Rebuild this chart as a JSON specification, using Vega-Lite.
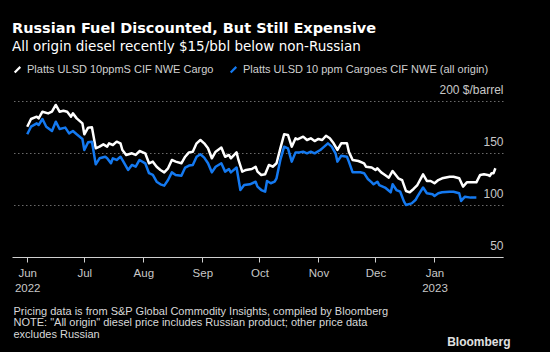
{
  "$schema": "https://vega.github.io/schema/vega-lite/v6.json",
  "width": 491,
  "height": 156,
  "autosize": {"type": "none"},
  "padding": {"left": 12, "top": 101, "right": 47, "bottom": 95},
  "background": "#000000",
  "config": {
    "view": {"stroke": null},
    "font": "Liberation Sans"
  },
  "title": {
    "text": "Russian Fuel Discounted, But Still Expensive",
    "subtitle": "All origin diesel recently $15/bbl below non-Russian",
    "anchor": "start",
    "frame": "group",
    "font": "DejaVu Sans",
    "subtitleFont": "DejaVu Sans",
    "color": "#ffffff",
    "subtitleColor": "#ffffff",
    "fontSize": 14.5,
    "fontWeight": "bold",
    "subtitleFontSize": 13.5,
    "subtitlePadding": 3,
    "offset": 10
  },
  "data": {
    "values": [
      {"date": "2022-06-01", "series": "W", "price": 175.3},
      {"date": "2022-06-03", "series": "W", "price": 182.7},
      {"date": "2022-06-06", "series": "W", "price": 184.9},
      {"date": "2022-06-07", "series": "W", "price": 183.3},
      {"date": "2022-06-09", "series": "W", "price": 189.7},
      {"date": "2022-06-12", "series": "W", "price": 188.1},
      {"date": "2022-06-14", "series": "W", "price": 189.7},
      {"date": "2022-06-16", "series": "W", "price": 196.2},
      {"date": "2022-06-18", "series": "W", "price": 189.7},
      {"date": "2022-06-20", "series": "W", "price": 190.7},
      {"date": "2022-06-22", "series": "W", "price": 189.7},
      {"date": "2022-06-24", "series": "W", "price": 184.9},
      {"date": "2022-06-25", "series": "W", "price": 188.1},
      {"date": "2022-06-27", "series": "W", "price": 183.3},
      {"date": "2022-06-30", "series": "W", "price": 178.5},
      {"date": "2022-07-01", "series": "W", "price": 168.0},
      {"date": "2022-07-03", "series": "W", "price": 174.4},
      {"date": "2022-07-05", "series": "W", "price": 174.7},
      {"date": "2022-07-07", "series": "W", "price": 154.5},
      {"date": "2022-07-09", "series": "W", "price": 156.1},
      {"date": "2022-07-11", "series": "W", "price": 158.3},
      {"date": "2022-07-13", "series": "W", "price": 156.1},
      {"date": "2022-07-14", "series": "W", "price": 159.3},
      {"date": "2022-07-16", "series": "W", "price": 157.7},
      {"date": "2022-07-18", "series": "W", "price": 160.9},
      {"date": "2022-07-20", "series": "W", "price": 159.3},
      {"date": "2022-07-21", "series": "W", "price": 152.9},
      {"date": "2022-07-23", "series": "W", "price": 148.1},
      {"date": "2022-07-26", "series": "W", "price": 149.7},
      {"date": "2022-07-28", "series": "W", "price": 148.1},
      {"date": "2022-07-30", "series": "W", "price": 151.9},
      {"date": "2022-08-02", "series": "W", "price": 149.7},
      {"date": "2022-08-04", "series": "W", "price": 140.1},
      {"date": "2022-08-06", "series": "W", "price": 141.7},
      {"date": "2022-08-08", "series": "W", "price": 136.8},
      {"date": "2022-08-10", "series": "W", "price": 133.7},
      {"date": "2022-08-12", "series": "W", "price": 131.4},
      {"date": "2022-08-14", "series": "W", "price": 135.3},
      {"date": "2022-08-16", "series": "W", "price": 143.3},
      {"date": "2022-08-18", "series": "W", "price": 141.7},
      {"date": "2022-08-21", "series": "W", "price": 140.1},
      {"date": "2022-08-23", "series": "W", "price": 146.4},
      {"date": "2022-08-25", "series": "W", "price": 150.6},
      {"date": "2022-08-27", "series": "W", "price": 151.3},
      {"date": "2022-08-29", "series": "W", "price": 159.3},
      {"date": "2022-08-31", "series": "W", "price": 162.5},
      {"date": "2022-09-02", "series": "W", "price": 159.3},
      {"date": "2022-09-04", "series": "W", "price": 154.5},
      {"date": "2022-09-06", "series": "W", "price": 144.9},
      {"date": "2022-09-08", "series": "W", "price": 151.3},
      {"date": "2022-09-11", "series": "W", "price": 155.2},
      {"date": "2022-09-13", "series": "W", "price": 146.4},
      {"date": "2022-09-15", "series": "W", "price": 148.1},
      {"date": "2022-09-16", "series": "W", "price": 144.9},
      {"date": "2022-09-19", "series": "W", "price": 150.6},
      {"date": "2022-09-20", "series": "W", "price": 143.3},
      {"date": "2022-09-22", "series": "W", "price": 132.1},
      {"date": "2022-09-24", "series": "W", "price": 133.7},
      {"date": "2022-09-27", "series": "W", "price": 134.6},
      {"date": "2022-09-29", "series": "W", "price": 136.8},
      {"date": "2022-09-30", "series": "W", "price": 132.1},
      {"date": "2022-10-02", "series": "W", "price": 128.9},
      {"date": "2022-10-04", "series": "W", "price": 129.5},
      {"date": "2022-10-06", "series": "W", "price": 138.5},
      {"date": "2022-10-08", "series": "W", "price": 136.8},
      {"date": "2022-10-10", "series": "W", "price": 140.1},
      {"date": "2022-10-12", "series": "W", "price": 154.5},
      {"date": "2022-10-14", "series": "W", "price": 168.0},
      {"date": "2022-10-16", "series": "W", "price": 167.4},
      {"date": "2022-10-18", "series": "W", "price": 156.1},
      {"date": "2022-10-20", "series": "W", "price": 164.1},
      {"date": "2022-10-21", "series": "W", "price": 163.2},
      {"date": "2022-10-24", "series": "W", "price": 165.7},
      {"date": "2022-10-26", "series": "W", "price": 162.5},
      {"date": "2022-10-28", "series": "W", "price": 164.1},
      {"date": "2022-10-30", "series": "W", "price": 161.5},
      {"date": "2022-11-01", "series": "W", "price": 163.5},
      {"date": "2022-11-03", "series": "W", "price": 162.5},
      {"date": "2022-11-05", "series": "W", "price": 166.6},
      {"date": "2022-11-07", "series": "W", "price": 164.1},
      {"date": "2022-11-09", "series": "W", "price": 159.3},
      {"date": "2022-11-11", "series": "W", "price": 152.9},
      {"date": "2022-11-13", "series": "W", "price": 159.3},
      {"date": "2022-11-16", "series": "W", "price": 159.3},
      {"date": "2022-11-17", "series": "W", "price": 151.3},
      {"date": "2022-11-19", "series": "W", "price": 143.3},
      {"date": "2022-11-22", "series": "W", "price": 142.3},
      {"date": "2022-11-25", "series": "W", "price": 140.1},
      {"date": "2022-11-26", "series": "W", "price": 136.8},
      {"date": "2022-11-29", "series": "W", "price": 136.0},
      {"date": "2022-12-01", "series": "W", "price": 133.7},
      {"date": "2022-12-02", "series": "W", "price": 135.3},
      {"date": "2022-12-04", "series": "W", "price": 131.4},
      {"date": "2022-12-06", "series": "W", "price": 128.9},
      {"date": "2022-12-08", "series": "W", "price": 126.3},
      {"date": "2022-12-10", "series": "W", "price": 132.7},
      {"date": "2022-12-13", "series": "W", "price": 125.7},
      {"date": "2022-12-15", "series": "W", "price": 124.0},
      {"date": "2022-12-17", "series": "W", "price": 113.5},
      {"date": "2022-12-19", "series": "W", "price": 112.2},
      {"date": "2022-12-21", "series": "W", "price": 115.4},
      {"date": "2022-12-23", "series": "W", "price": 119.2},
      {"date": "2022-12-26", "series": "W", "price": 129.5},
      {"date": "2022-12-28", "series": "W", "price": 123.1},
      {"date": "2022-12-30", "series": "W", "price": 123.1},
      {"date": "2023-01-01", "series": "W", "price": 120.9},
      {"date": "2023-01-03", "series": "W", "price": 124.0},
      {"date": "2023-01-05", "series": "W", "price": 125.7},
      {"date": "2023-01-09", "series": "W", "price": 127.2},
      {"date": "2023-01-11", "series": "W", "price": 127.2},
      {"date": "2023-01-14", "series": "W", "price": 125.7},
      {"date": "2023-01-16", "series": "W", "price": 117.7},
      {"date": "2023-01-18", "series": "W", "price": 121.8},
      {"date": "2023-01-20", "series": "W", "price": 121.8},
      {"date": "2023-01-23", "series": "W", "price": 121.8},
      {"date": "2023-01-25", "series": "W", "price": 128.9},
      {"date": "2023-01-27", "series": "W", "price": 129.5},
      {"date": "2023-01-29", "series": "W", "price": 128.9},
      {"date": "2023-01-30", "series": "W", "price": 127.9},
      {"date": "2023-01-31", "series": "W", "price": 130.6},
      {"date": "2023-02-01", "series": "W", "price": 130.6},
      {"date": "2023-02-02", "series": "W", "price": 135.3},
      {"date": "2022-06-01", "series": "B", "price": 168.0},
      {"date": "2022-06-03", "series": "B", "price": 175.3},
      {"date": "2022-06-06", "series": "B", "price": 178.5},
      {"date": "2022-06-07", "series": "B", "price": 176.9},
      {"date": "2022-06-09", "series": "B", "price": 182.7},
      {"date": "2022-06-11", "series": "B", "price": 175.3},
      {"date": "2022-06-14", "series": "B", "price": 171.2},
      {"date": "2022-06-16", "series": "B", "price": 180.1},
      {"date": "2022-06-18", "series": "B", "price": 173.1},
      {"date": "2022-06-21", "series": "B", "price": 174.4},
      {"date": "2022-06-23", "series": "B", "price": 168.9},
      {"date": "2022-06-25", "series": "B", "price": 171.2},
      {"date": "2022-06-27", "series": "B", "price": 168.0},
      {"date": "2022-06-30", "series": "B", "price": 163.5},
      {"date": "2022-07-01", "series": "B", "price": 152.9},
      {"date": "2022-07-03", "series": "B", "price": 160.3},
      {"date": "2022-07-05", "series": "B", "price": 160.9},
      {"date": "2022-07-07", "series": "B", "price": 139.1},
      {"date": "2022-07-09", "series": "B", "price": 144.9},
      {"date": "2022-07-12", "series": "B", "price": 146.4},
      {"date": "2022-07-13", "series": "B", "price": 144.9},
      {"date": "2022-07-15", "series": "B", "price": 140.1},
      {"date": "2022-07-16", "series": "B", "price": 144.9},
      {"date": "2022-07-18", "series": "B", "price": 143.3},
      {"date": "2022-07-20", "series": "B", "price": 146.4},
      {"date": "2022-07-21", "series": "B", "price": 143.3},
      {"date": "2022-07-24", "series": "B", "price": 133.7},
      {"date": "2022-07-26", "series": "B", "price": 138.5},
      {"date": "2022-07-28", "series": "B", "price": 136.8},
      {"date": "2022-07-30", "series": "B", "price": 143.3},
      {"date": "2022-08-02", "series": "B", "price": 140.1},
      {"date": "2022-08-04", "series": "B", "price": 130.6},
      {"date": "2022-08-06", "series": "B", "price": 128.9},
      {"date": "2022-08-08", "series": "B", "price": 122.4},
      {"date": "2022-08-10", "series": "B", "price": 119.9},
      {"date": "2022-08-12", "series": "B", "price": 118.6},
      {"date": "2022-08-14", "series": "B", "price": 124.0},
      {"date": "2022-08-16", "series": "B", "price": 131.4},
      {"date": "2022-08-18", "series": "B", "price": 128.9},
      {"date": "2022-08-21", "series": "B", "price": 128.2},
      {"date": "2022-08-23", "series": "B", "price": 136.0},
      {"date": "2022-08-25", "series": "B", "price": 137.9},
      {"date": "2022-08-27", "series": "B", "price": 138.5},
      {"date": "2022-08-29", "series": "B", "price": 146.4},
      {"date": "2022-08-31", "series": "B", "price": 148.8},
      {"date": "2022-09-02", "series": "B", "price": 145.6},
      {"date": "2022-09-04", "series": "B", "price": 140.1},
      {"date": "2022-09-06", "series": "B", "price": 131.4},
      {"date": "2022-09-08", "series": "B", "price": 136.8},
      {"date": "2022-09-11", "series": "B", "price": 140.1},
      {"date": "2022-09-13", "series": "B", "price": 132.1},
      {"date": "2022-09-15", "series": "B", "price": 134.6},
      {"date": "2022-09-16", "series": "B", "price": 131.4},
      {"date": "2022-09-19", "series": "B", "price": 136.0},
      {"date": "2022-09-21", "series": "B", "price": 114.4},
      {"date": "2022-09-23", "series": "B", "price": 119.2},
      {"date": "2022-09-26", "series": "B", "price": 119.9},
      {"date": "2022-09-29", "series": "B", "price": 122.4},
      {"date": "2022-09-30", "series": "B", "price": 117.7},
      {"date": "2022-10-02", "series": "B", "price": 114.4},
      {"date": "2022-10-04", "series": "B", "price": 112.8},
      {"date": "2022-10-05", "series": "B", "price": 123.1},
      {"date": "2022-10-07", "series": "B", "price": 120.9},
      {"date": "2022-10-09", "series": "B", "price": 122.4},
      {"date": "2022-10-10", "series": "B", "price": 125.7},
      {"date": "2022-10-12", "series": "B", "price": 143.3},
      {"date": "2022-10-14", "series": "B", "price": 156.1},
      {"date": "2022-10-16", "series": "B", "price": 154.5},
      {"date": "2022-10-18", "series": "B", "price": 141.7},
      {"date": "2022-10-20", "series": "B", "price": 150.6},
      {"date": "2022-10-22", "series": "B", "price": 150.6},
      {"date": "2022-10-24", "series": "B", "price": 151.3},
      {"date": "2022-10-26", "series": "B", "price": 149.7},
      {"date": "2022-10-28", "series": "B", "price": 151.3},
      {"date": "2022-10-30", "series": "B", "price": 149.7},
      {"date": "2022-11-02", "series": "B", "price": 152.9},
      {"date": "2022-11-03", "series": "B", "price": 154.5},
      {"date": "2022-11-06", "series": "B", "price": 159.3},
      {"date": "2022-11-08", "series": "B", "price": 156.1},
      {"date": "2022-11-10", "series": "B", "price": 149.7},
      {"date": "2022-11-11", "series": "B", "price": 141.7},
      {"date": "2022-11-13", "series": "B", "price": 147.4},
      {"date": "2022-11-16", "series": "B", "price": 146.4},
      {"date": "2022-11-17", "series": "B", "price": 141.7},
      {"date": "2022-11-19", "series": "B", "price": 131.4},
      {"date": "2022-11-23", "series": "B", "price": 131.4},
      {"date": "2022-11-25", "series": "B", "price": 130.6},
      {"date": "2022-11-27", "series": "B", "price": 125.0},
      {"date": "2022-11-29", "series": "B", "price": 121.8},
      {"date": "2022-11-30", "series": "B", "price": 119.9},
      {"date": "2022-12-02", "series": "B", "price": 122.4},
      {"date": "2022-12-03", "series": "B", "price": 119.2},
      {"date": "2022-12-06", "series": "B", "price": 116.8},
      {"date": "2022-12-09", "series": "B", "price": 112.2},
      {"date": "2022-12-10", "series": "B", "price": 119.9},
      {"date": "2022-12-12", "series": "B", "price": 114.4},
      {"date": "2022-12-14", "series": "B", "price": 112.8},
      {"date": "2022-12-16", "series": "B", "price": 103.2},
      {"date": "2022-12-17", "series": "B", "price": 100.0},
      {"date": "2022-12-20", "series": "B", "price": 101.6},
      {"date": "2022-12-22", "series": "B", "price": 104.8},
      {"date": "2022-12-23", "series": "B", "price": 108.0},
      {"date": "2022-12-26", "series": "B", "price": 116.8},
      {"date": "2022-12-28", "series": "B", "price": 111.3},
      {"date": "2022-12-31", "series": "B", "price": 110.3},
      {"date": "2023-01-01", "series": "B", "price": 108.7},
      {"date": "2023-01-03", "series": "B", "price": 111.3},
      {"date": "2023-01-05", "series": "B", "price": 112.2},
      {"date": "2023-01-09", "series": "B", "price": 112.8},
      {"date": "2023-01-11", "series": "B", "price": 112.8},
      {"date": "2023-01-14", "series": "B", "price": 111.3},
      {"date": "2023-01-15", "series": "B", "price": 103.9},
      {"date": "2023-01-17", "series": "B", "price": 108.0},
      {"date": "2023-01-20", "series": "B", "price": 107.1},
      {"date": "2023-01-23", "series": "B", "price": 107.1}
    ]
  },
  "mark": {"type": "line", "strokeWidth": 2.5, "strokeJoin": "round"},
  "encoding": {
    "x": {
      "field": "date",
      "type": "temporal",
      "scale": {"type": "utc", "domain": [{"year": 2022, "month": 5, "date": 24, "utc": true}, {"year": 2023, "month": 2, "date": 6, "utc": true}]},
      "axis": {
        "values": [
          {"year": 2022, "month": 6, "date": 1, "utc": true},
          {"year": 2022, "month": 7, "date": 1, "utc": true},
          {"year": 2022, "month": 8, "date": 1, "utc": true},
          {"year": 2022, "month": 9, "date": 1, "utc": true},
          {"year": 2022, "month": 10, "date": 1, "utc": true},
          {"year": 2022, "month": 11, "date": 1, "utc": true},
          {"year": 2022, "month": 12, "date": 1, "utc": true},
          {"year": 2023, "month": 1, "date": 1, "utc": true}
        ],
        "labelExpr": "(utcmonth(datum.value) == 0 || utcmonth(datum.value) == 5) ? [utcFormat(datum.value, '%b'), utcFormat(datum.value, '%Y')] : utcFormat(datum.value, '%b')",
        "labelColor": "#c8c8c8",
        "labelFontSize": 11.5,
        "labelPadding": 5,
        "labelLineHeight": 15,
        "labelBaseline": "top",
        "grid": false,
        "domainColor": "#d0d0d0",
        "domainWidth": 1,
        "tickColor": "#d0d0d0",
        "tickSize": 5,
        "title": ["Pricing data is from S&P Global Commodity Insights, compiled by Bloomberg", "NOTE: \"All origin\" diesel price includes Russian product; other price data", "excludes Russian"],
        "titleColor": "#d8d8d8",
        "titleFontSize": 11,
        "titleFontWeight": "normal",
        "titleAlign": "left",
        "titleAnchor": "start",
        "titleBaseline": "top",
        "titleLineHeight": 11.5,
        "titleX": 1,
        "titleY": 48
      }
    },
    "y": {
      "field": "price",
      "type": "quantitative",
      "scale": {"domain": [50, 200], "nice": false, "zero": false},
      "axis": {
        "orient": "right",
        "values": [50, 100, 150, 200],
        "labelExpr": "datum.value == 200 ? '200 $/barrel' : datum.label",
        "labelAlign": "right",
        "labelBaseline": "bottom",
        "labelOffset": -5,
        "labelPadding": 0,
        "labelColor": "#c8c8c8",
        "labelFontSize": 12,
        "ticks": false,
        "domain": false,
        "grid": true,
        "gridColor": "#6a6a6a",
        "gridDash": [1.5, 2.5],
        "gridWidth": 1,
        "title": "Bloomberg",
        "titleAngle": 0,
        "titleColor": "#e0e0e0",
        "titleFontSize": 12,
        "titleFontWeight": "bold",
        "titleAlign": "right",
        "titleBaseline": "alphabetic",
        "titleX": 7,
        "titleY": 244
      }
    },
    "color": {
      "field": "series",
      "type": "nominal",
      "scale": {
        "domain": ["W", "B"],
        "range": ["#ffffff", "#1479f0"]
      },
      "legend": {
        "orient": "none",
        "legendX": 0,
        "legendY": -37,
        "direction": "horizontal",
        "title": null,
        "labelExpr": "datum.value == 'W' ? 'Platts ULSD 10ppmS CIF NWE Cargo' : 'Platts ULSD 10 ppm Cargoes CIF NWE (all origin)'",
        "labelColor": "#d0d0d0",
        "labelFontSize": 11,
        "labelOffset": 4,
        "labelLimit": 400,
        "symbolType": "M-0.7,0.7L0.7,-0.7",
        "symbolSize": 64,
        "symbolStrokeWidth": 2.2,
        "columnPadding": 12
      }
    }
  }
}
